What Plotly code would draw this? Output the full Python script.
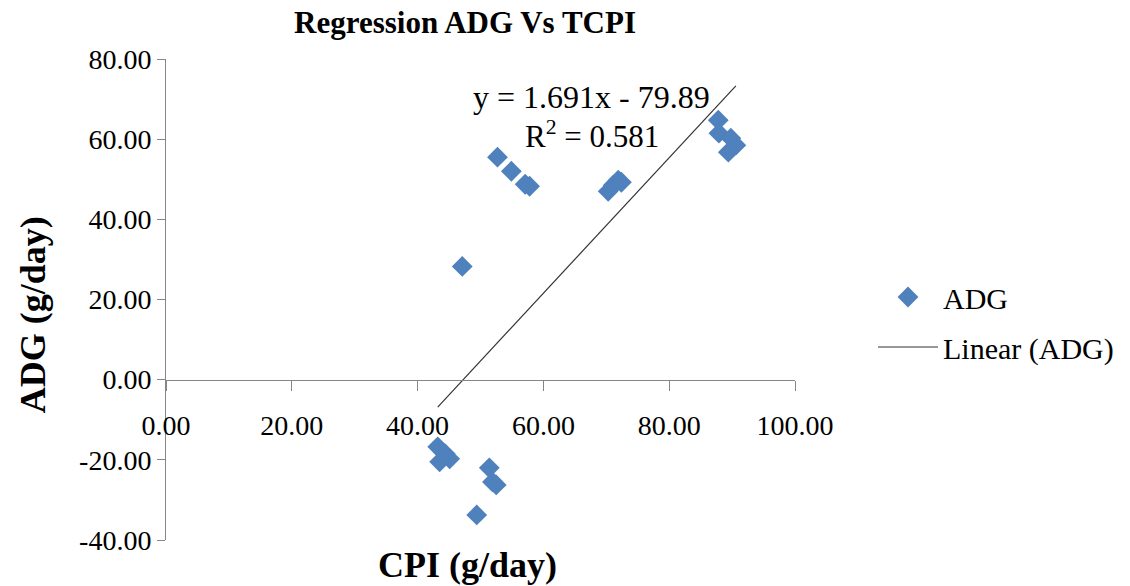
import plotly.graph_objects as go

# Data
cpi = [43.2, 44.4, 43.5, 45.1, 51.4, 51.9, 52.5, 49.4,
       47.1,
       52.7, 54.9, 57.1, 57.8,
       71.9, 71.1, 70.3, 72.4,
       87.8, 87.9, 89.8, 90.6, 89.4]
adg = [-16.75, -18.5, -20.5, -19.75, -22.0, -25.5, -26.25, -33.75,
       28.25,
       55.5, 52.0, 48.75, 48.25,
       49.75, 48.5, 47.0, 49.25,
       64.75, 61.5, 60.25, 58.5, 56.75]

slope = 1.691
intercept = -79.89
r2 = 0.581

x_ticks = [0, 20, 40, 60, 80, 100]
y_ticks = [-40, -20, 0, 20, 40, 60, 80]

FONT = "Times New Roman, Liberation Serif, serif"
BLUE = "#4F81BD"
AXIS = "#868686"

xmin, xmax = min(cpi), max(cpi)
trend_x = [xmin, xmax]
trend_y = [slope * v + intercept for v in trend_x]

fig = go.Figure()
fig.add_trace(go.Scatter(
    x=cpi, y=adg, mode="markers", name="ADG",
    marker=dict(symbol="diamond", size=16, color=BLUE, line=dict(width=0)),
    legendgroup="a",
))
fig.add_trace(go.Scatter(
    x=trend_x, y=trend_y, mode="lines", name="Linear (ADG)",
    line=dict(color="#333333", width=1.2),
    legendgroup="b",
))

W, H = 1130, 586
L, R, T, B = 166, 334, 59, 46
PW, PH = W - L - R, H - T - B

fig.update_layout(
    width=W, height=H,
    margin=dict(l=L, r=R, t=T, b=B),
    paper_bgcolor="white", plot_bgcolor="white",
    font=dict(family=FONT, size=28, color="black"),
    showlegend=True,
    legend=dict(
        x=(873 - L) / PW, y=(H - B - 322) / PH, xanchor="left", yanchor="middle",
        font=dict(family=FONT, size=30, color="black"),
        tracegroupgap=8, itemwidth=60,
        bgcolor="rgba(0,0,0,0)",
    ),
    title=dict(
        text="<b>Regression ADG Vs TCPI</b>",
        x=465 / W, xanchor="center", xref="container",
        y=1 - 22 / H, yanchor="middle", yref="container",
        font=dict(family=FONT, size=31, color="black"),
    ),
    xaxis=dict(
        range=[0, 100], tickvals=x_ticks, ticktext=[f"{v:.2f}" for v in x_ticks],
        showgrid=False, zeroline=False,
        showline=True, linecolor=AXIS, linewidth=1,
        ticks="outside", ticklen=10, tickcolor=AXIS,
        anchor="free", position=40 / 120,
        ticklabelstandoff=11,
        tickfont=dict(family=FONT, size=28, color="black"),
    ),
    yaxis=dict(
        range=[-40, 80], tickvals=y_ticks, ticktext=[f"{v:.2f}" for v in y_ticks],
        showgrid=False, zeroline=False,
        showline=True, linecolor=AXIS, linewidth=1,
        ticks="outside", ticklen=8, tickcolor=AXIS,
        tickfont=dict(family=FONT, size=28, color="black"),
    ),
    annotations=[
        dict(text="<b>CPI (g/day)</b>", xref="paper", yref="paper",
             x=(468 - L) / PW, y=-(565 - (H - B)) / PH,
             xanchor="center", yanchor="middle", showarrow=False,
             font=dict(family=FONT, size=36, color="black")),
        dict(text="<b>ADG (g/day)</b>", xref="paper", yref="paper",
             x=-(L - 33) / PW, y=(H - B - 315) / PH,
             xanchor="center", yanchor="middle", showarrow=False, textangle=-90,
             font=dict(family=FONT, size=36, color="black")),
        dict(text=f"y = {slope}x - {abs(intercept)}", xref="x", yref="y",
             x=(592 - L) / 6.3, y=(380 - 98) / 4, xanchor="center", yanchor="middle",
             showarrow=False, font=dict(family=FONT, size=32, color="black")),
        dict(text=f"R<sup>2</sup> = {r2}", xref="x", yref="y",
             x=(593 - L) / 6.3, y=(380 - 135) / 4, xanchor="center", yanchor="middle",
             showarrow=False, font=dict(family=FONT, size=31, color="black")),
    ],
)

fig.write_html("out.html", config={"displayModeBar": False},
               post_script="document.body.style.margin='0px';")
